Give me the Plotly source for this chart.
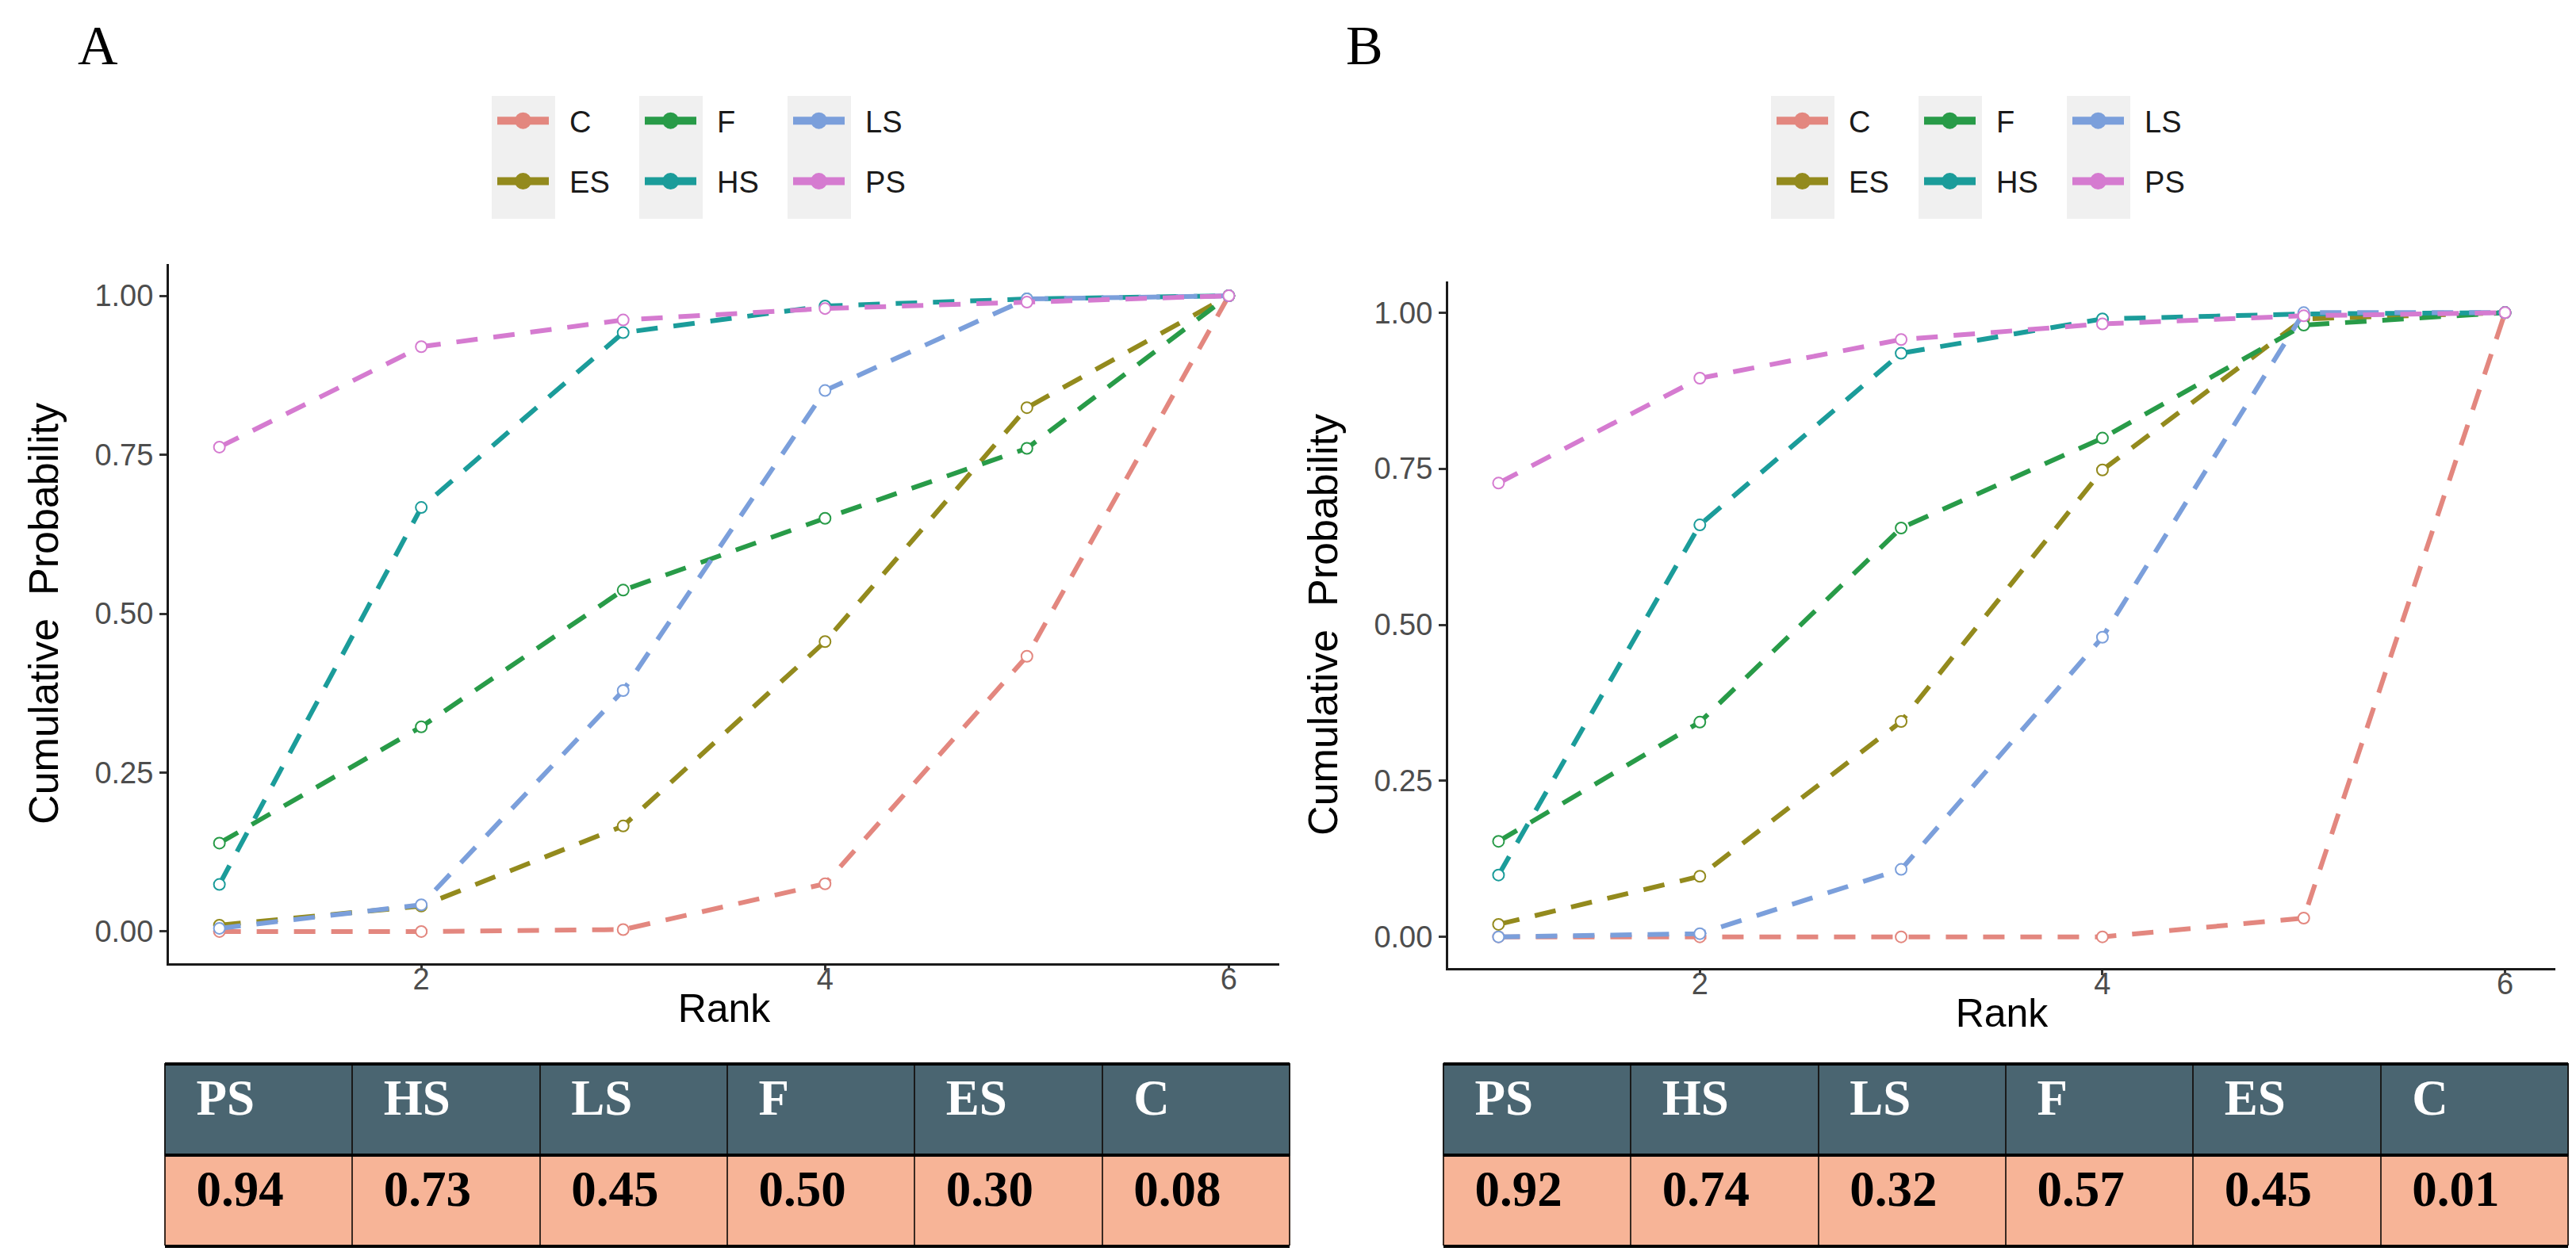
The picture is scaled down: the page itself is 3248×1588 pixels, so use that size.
import plotly.graph_objects as go

# ---------------- data ----------------
ranks = [1, 2, 3, 4, 5, 6]
series = ["C", "ES", "F", "HS", "LS", "PS"]

cum_A = {
    "C":  [0.000, 0.000, 0.003, 0.075, 0.433, 1.000],
    "ES": [0.010, 0.040, 0.166, 0.456, 0.824, 1.000],
    "F":  [0.139, 0.322, 0.537, 0.650, 0.760, 1.000],
    "HS": [0.074, 0.667, 0.942, 0.984, 0.995, 1.000],
    "LS": [0.005, 0.042, 0.379, 0.851, 0.995, 1.000],
    "PS": [0.762, 0.920, 0.962, 0.980, 0.990, 1.000],
}
cum_B = {
    "C":  [0.000, 0.000, 0.000, 0.000, 0.030, 1.000],
    "ES": [0.020, 0.097, 0.345, 0.748, 0.990, 1.000],
    "F":  [0.153, 0.344, 0.655, 0.799, 0.980, 1.000],
    "HS": [0.099, 0.660, 0.935, 0.990, 0.998, 1.000],
    "LS": [0.000, 0.005, 0.108, 0.480, 1.000, 1.000],
    "PS": [0.727, 0.895, 0.957, 0.982, 0.995, 1.000],
}

table_names = ["PS", "HS", "LS", "F", "ES", "C"]
sucra_A = ["0.94", "0.73", "0.45", "0.50", "0.30", "0.08"]
sucra_B = ["0.92", "0.74", "0.32", "0.57", "0.45", "0.01"]

x_ticks = [2, 4, 6]
y_ticks = [0, 0.25, 0.5, 0.75, 1.0]
y_ticktext = ["0.00", "0.25", "0.50", "0.75", "1.00"]
legend_columns = [["C", "ES"], ["F", "HS"], ["LS", "PS"]]

# ---------------- style ----------------
W, H = 3248, 1588
colors = {
    "C": "#E3877F", "ES": "#938A1D", "F": "#289B48",
    "HS": "#1B9C9A", "LS": "#7B9FDB", "PS": "#D57BD0",
}
SANS = "Liberation Sans"
SERIF = "Liberation Serif"

def px_x(v):
    return v / W

def px_y(v):
    return 1 - v / H

panels = [
    dict(name="A", data=cum_A, sucra=sucra_A, xa="x", ya="y",
         xdom=[205, 1605], ydom=[325, 1207], label_x=115, label_y=50,
         leg_x=[614, 800, 987], key_x=[612, 798, 985],
         tab_x=[200, 1618], legends=["legend", "legend2", "legend3"]),
    dict(name="B", data=cum_B, sucra=sucra_B, xa="x2", ya="y2",
         xdom=[1818, 3214], ydom=[347, 1213], label_x=1712, label_y=50,
         leg_x=[2227, 2413, 2600], key_x=[2225, 2411, 2598],
         tab_x=[1812, 3230], legends=["legend4", "legend5", "legend6"]),
]

fig = go.Figure()
shapes = []
annotations = []

for p in panels:
    # data traces
    for s in series:
        fig.add_trace(go.Scatter(
            x=ranks, y=p["data"][s], mode="lines+markers",
            line=dict(color=colors[s], width=6, dash="27px,20px"),
            marker=dict(size=14, color="white", line=dict(color=colors[s], width=2)),
            xaxis=p["xa"], yaxis=p["ya"], showlegend=False, hoverinfo="skip",
        ))
    # legend entries
    for ci, col in enumerate(legend_columns):
        for s in col:
            fig.add_trace(go.Scatter(
                x=[None], y=[None], mode="lines+markers",
                name="\u00a0\u00a0" + s,
                line=dict(color=colors[s], width=10),
                marker=dict(size=16, color=colors[s], line=dict(color=colors[s], width=5)),
                xaxis=p["xa"], yaxis=p["ya"], showlegend=True,
                legend=p["legends"][ci], legendgroup=p["name"] + s,
            ))
        # light grey key background
        shapes.append(dict(
            type="rect", xref="paper", yref="paper", layer="below",
            x0=px_x(p["key_x"][ci]), x1=px_x(p["key_x"][ci] + 80),
            y0=px_y(268), y1=px_y(113),
            fillcolor="#F0F0F0", line=dict(width=0),
        ))
    # table
    fig.add_trace(go.Table(
        domain=dict(x=[px_x(p["tab_x"][0]), px_x(p["tab_x"][1])],
                    y=[px_y(1564), px_y(1334)]),
        columnwidth=[1] * 6,
        header=dict(
            values=["<b>\u00a0\u00a0" + n + "</b>" for n in table_names],
            fill_color="#4A6571", align="left", height=115,
            font=dict(family=SERIF, size=63, color="white"),
            line=dict(color="#1A1A1A", width=2),
        ),
        cells=dict(
            values=[["<b>\u00a0\u00a0" + v + "</b>"] for v in p["sucra"]],
            fill_color="#F7B497", align="left", height=115,
            font=dict(family=SERIF, size=63, color="black"),
            line=dict(color="#3A2A22", width=2),
        ),
    ))
    for yy in [1334, 1449, 1564]:
        shapes.append(dict(
            type="line", xref="paper", yref="paper", layer="above",
            x0=px_x(p["tab_x"][0]), x1=px_x(p["tab_x"][1]),
            y0=px_y(yy), y1=px_y(yy), line=dict(color="black", width=4),
        ))
    # panel label
    annotations.append(dict(
        text=p["name"], xref="paper", yref="paper",
        x=px_x(p["label_x"]), y=px_y(p["label_y"]),
        xanchor="center", yanchor="middle", showarrow=False,
        font=dict(family=SERIF, size=70, color="black"),
    ))

axis_common = dict(
    showline=True, linecolor="#1A1A1A", linewidth=3, mirror=False,
    ticks="outside", tickwidth=3, tickcolor="#333333",
    showgrid=False, zeroline=False, automargin=False,
    tickfont=dict(family=SANS, size=38, color="#4D4D4D"),
)

layout_axes = {}
for i, p in enumerate(panels):
    sfx = "" if i == 0 else "2"
    layout_axes["xaxis" + sfx] = dict(
        axis_common, domain=[px_x(p["xdom"][0]), px_x(p["xdom"][1])],
        range=[0.75, 6.25], tickvals=x_ticks, anchor="y" + sfx,
        ticklen=6, ticklabelstandoff=-22,
        title=dict(text="Rank", font=dict(family=SANS, size=50, color="black"), standoff=0),
    )
    layout_axes["yaxis" + sfx] = dict(
        axis_common, domain=[px_y(p["ydom"][1]), px_y(p["ydom"][0])],
        range=[-0.05, 1.05], tickvals=y_ticks, ticktext=y_ticktext, anchor="x" + sfx,
        ticklen=9,
        title=dict(text="Cumulative\u00a0 Probability",
                   font=dict(family=SANS, size=52, color="black"), standoff=30),
    )

legend_common = dict(
    xanchor="left", yanchor="top", orientation="v",
    font=dict(family=SANS, size=38, color="#1A1A1A"),
    bgcolor="rgba(0,0,0,0)", borderwidth=0, itemwidth=65,
    tracegroupgap=24, traceorder="grouped", itemclick=False, itemdoubleclick=False,
)
legends = {}
for p in panels:
    for ci, lid in enumerate(p["legends"]):
        legends[lid] = dict(legend_common, x=px_x(p["leg_x"][ci]), y=px_y(113))

fig.update_layout(
    width=W, height=H, margin=dict(l=0, r=0, t=0, b=0),
    paper_bgcolor="white", plot_bgcolor="white",
    showlegend=True, shapes=shapes, annotations=annotations,
    **layout_axes, **legends,
)

fig.write_html("out.html")
